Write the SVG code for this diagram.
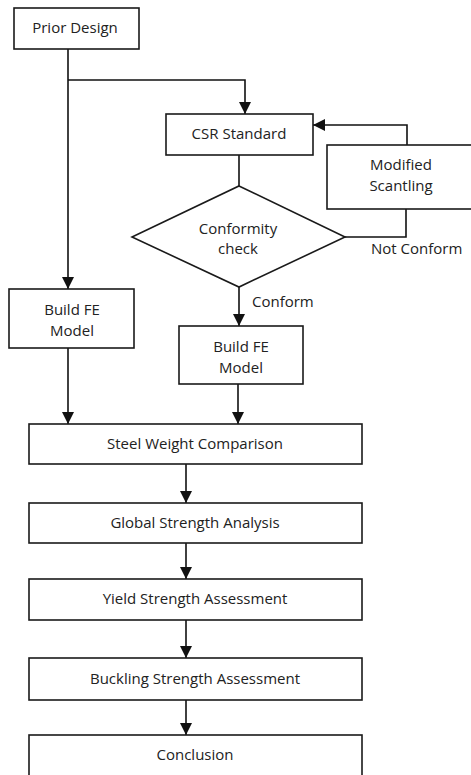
<svg xmlns="http://www.w3.org/2000/svg" width="471" height="775" viewBox="0 0 471 775">
<style>
.box{fill:#fff;stroke:#1a1a1a;stroke-width:1.6}
.t{font-family:"Open Sans","Liberation Sans",sans-serif;font-size:15px;fill:#222;text-anchor:middle}
.l{font-family:"Open Sans","Liberation Sans",sans-serif;font-size:15px;fill:#222}
.c{fill:none;stroke:#111;stroke-width:1.6}
</style>
<defs>
<marker id="ah" markerUnits="userSpaceOnUse" markerWidth="12" markerHeight="12" viewBox="0 0 12 12" refX="12" refY="6" orient="auto">
<path d="M0,0 L12,6 L0,12 Z" fill="#111"/>
</marker>
</defs>
<rect width="471" height="775" fill="#fff"/>
<g id="connectors">
<path class="c" d="M68,49 V289" marker-end="url(#ah)"/>
<path class="c" d="M68,80 H245 V114" marker-end="url(#ah)"/>
<path class="c" d="M239,155 V186"/>
<path class="c" d="M239,287 V326" marker-end="url(#ah)"/>
<path class="c" d="M345,237 H406 V209"/>
<path class="c" d="M407,145 V125 H313" marker-end="url(#ah)"/>
<path class="c" d="M68,348 V424" marker-end="url(#ah)"/>
<path class="c" d="M238,384 V424" marker-end="url(#ah)"/>
<path class="c" d="M186,464 V503" marker-end="url(#ah)"/>
<path class="c" d="M186,543 V579" marker-end="url(#ah)"/>
<path class="c" d="M186,620 V658" marker-end="url(#ah)"/>
<path class="c" d="M186,700 V735" marker-end="url(#ah)"/>
<text class="l" x="371" y="254">Not Conform</text>
<text class="l" x="252" y="307">Conform</text>
</g>
<g id="prior">
<rect class="box" x="14" y="8" width="125" height="41"/>
<text class="t" x="75" y="33">Prior Design</text>
</g>
<g id="csr">
<rect class="box" x="166" y="114" width="147" height="41"/>
<text class="t" x="239" y="139">CSR Standard</text>
</g>
<g id="modified">
<rect class="box" x="327" y="145" width="150" height="64"/>
<text class="t" x="401" y="170">Modified</text>
<text class="t" x="401" y="191">Scantling</text>
</g>
<g id="check">
<path class="box" d="M239,186 L345,237 L239,287 L132,237 Z"/>
<text class="t" x="238" y="234">Conformity</text>
<text class="t" x="238" y="254">check</text>
</g>
<g id="fe1">
<rect class="box" x="9" y="289" width="125" height="59"/>
<text class="t" x="72" y="315">Build FE</text>
<text class="t" x="72" y="336">Model</text>
</g>
<g id="fe2">
<rect class="box" x="179" y="326" width="124" height="58"/>
<text class="t" x="241" y="352">Build FE</text>
<text class="t" x="241" y="373">Model</text>
</g>
<g id="steel">
<rect class="box" x="29" y="424" width="333" height="40"/>
<text class="t" x="195" y="449">Steel Weight Comparison</text>
</g>
<g id="global">
<rect class="box" x="29" y="503" width="333" height="40"/>
<text class="t" x="195" y="528">Global Strength Analysis</text>
</g>
<g id="yield">
<rect class="box" x="29" y="579" width="333" height="41"/>
<text class="t" x="195" y="604">Yield Strength Assessment</text>
</g>
<g id="buckling">
<rect class="box" x="29" y="658" width="333" height="42"/>
<text class="t" x="195" y="684">Buckling Strength Assessment</text>
</g>
<g id="conclusion">
<rect class="box" x="29" y="735" width="333" height="50"/>
<text class="t" x="195" y="760">Conclusion</text>
</g>
</svg>
